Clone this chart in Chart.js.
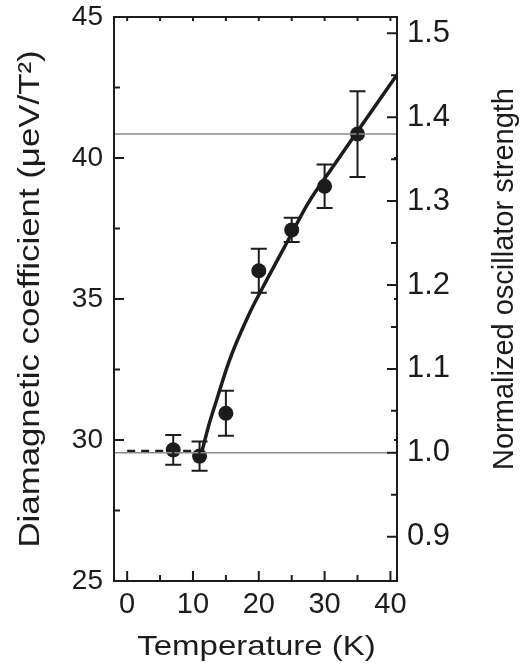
<!DOCTYPE html>
<html>
<head>
<meta charset="utf-8">
<script src="https://cdn.jsdelivr.net/npm/chart.js@4.4.0/dist/chart.umd.min.js"></script>
<style>
	html, body { margin: 0; padding: 0; background: #fff; }
	canvas { display: block; }
</style>
</head>
<body>
<canvas id="chart-diamag" width="520" height="668"></canvas>
<script>
// measured points (K, ueV/T^2) and their error half-widths
var temps = [7, 11, 15, 20, 25, 30, 35];
var coeff = [29.65, 29.43, 30.95, 36.0, 37.45, 39.0, 40.85];
var coeffErr = [0.53, 0.52, 0.8, 0.78, 0.43, 0.77, 1.52];

// guide line
var fitT = [11.2, 12.5, 13.5, 15.5, 18.5, 21.5, 24.5, 27.5, 31, 35, 38, 41];
var fitV = [29.45, 30.6, 31.35, 32.8, 34.45, 35.8, 37.1, 38.4, 39.6, 40.95, 41.95, 42.95];

// dashed low-temperature level
var flatT = [0, 11];
var flatV = [29.6, 29.6];

// thin reference levels, right axis units
var refLevels = [1.0, 1.38];

var xTicks = [0, 10, 20, 30, 40];
var leftTicks = [25, 30, 35, 40, 45];
var rightTicks = [0.9, 1.0, 1.1, 1.2, 1.3, 1.4, 1.5];

var xTitle = 'Temperature (K)';
var leftTitle = 'Diamagnetic coefficient (\u03bceV/T\u00b2)';
var rightTitle = 'Normalized oscillator strength';

var ink = '#1c1c1c';
var fontFamily = '"Liberation Sans", Arial, sans-serif';

function pairs(xs, ys) {
	return xs.map(function(x, i) { return {x: x, y: ys[i]}; });
}
function mids(list) {
	var out = [];
	for (var i = 0; i < list.length - 1; i++) out.push((list[i] + list[i + 1]) / 2);
	return out;
}
function fixTicks(list) {
	return function(scale) {
		scale.ticks = list.map(function(v) { return {value: v}; });
	};
}
// pin the axis box size and drop the label overflow padding
function fitBox(w, h) {
	return function(s) {
		if (w) s.width = w;
		if (h) s.height = h;
		s.paddingTop = 0; s.paddingBottom = 0;
		s.paddingLeft = 0; s.paddingRight = 0;
	};
}
// the original lettering is a bit wider than Liberation Sans
function wideText(ctx, text, x, y, rot, size, stretch) {
	ctx.save();
	ctx.translate(x, y);
	ctx.rotate(rot);
	ctx.scale(stretch, 1);
	ctx.font = size + 'px ' + fontFamily;
	ctx.fillText(text, 0, 0);
	ctx.restore();
}

var xMin = -2, xMax = 41;

// error bars
var errorBars = {
	id: 'errorBars',
	afterDatasetsDraw: function(chart) {
		var ctx = chart.ctx, xs = chart.scales.x, ys = chart.scales.y;
		ctx.save();
		ctx.strokeStyle = ink;
		ctx.lineWidth = 2;
		temps.forEach(function(t, i) {
			var px = xs.getPixelForValue(t);
			var top = ys.getPixelForValue(coeff[i] + coeffErr[i]);
			var bot = ys.getPixelForValue(coeff[i] - coeffErr[i]);
			ctx.beginPath();
			ctx.moveTo(px, top); ctx.lineTo(px, bot);
			ctx.moveTo(px - 8, top); ctx.lineTo(px + 8, top);
			ctx.moveTo(px - 8, bot); ctx.lineTo(px + 8, bot);
			ctx.stroke();
		});
		ctx.restore();
	}
};

// box, inward ticks and the three axis titles
var frame = {
	id: 'frame',
	afterDraw: function(chart) {
		var ctx = chart.ctx, a = chart.chartArea;
		var xs = chart.scales.x, ys = chart.scales.y, y2 = chart.scales.y2;
		ctx.save();
		ctx.strokeStyle = ink;
		ctx.lineWidth = 2;
		ctx.strokeRect(a.left, a.top, a.right - a.left, a.bottom - a.top);
		ctx.beginPath();
		xTicks.forEach(function(v) {
			var p = xs.getPixelForValue(v);
			ctx.moveTo(p, a.bottom); ctx.lineTo(p, a.bottom - 10);
			ctx.moveTo(p, a.top); ctx.lineTo(p, a.top + 4);
		});
		mids(xTicks).forEach(function(v) {
			var p = xs.getPixelForValue(v);
			ctx.moveTo(p, a.bottom); ctx.lineTo(p, a.bottom - 6);
			ctx.moveTo(p, a.top); ctx.lineTo(p, a.top + 4);
		});
		leftTicks.forEach(function(v) {
			var p = ys.getPixelForValue(v);
			ctx.moveTo(a.left, p); ctx.lineTo(a.left + 10, p);
			ctx.moveTo(a.right, p); ctx.lineTo(a.right - 3, p);
		});
		mids(leftTicks).forEach(function(v) {
			var p = ys.getPixelForValue(v);
			ctx.moveTo(a.left, p); ctx.lineTo(a.left + 6, p);
		});
		rightTicks.forEach(function(v) {
			var p = y2.getPixelForValue(v);
			ctx.moveTo(a.right, p); ctx.lineTo(a.right - 10, p);
		});
		mids(rightTicks).forEach(function(v) {
			var p = y2.getPixelForValue(v);
			ctx.moveTo(a.right, p); ctx.lineTo(a.right - 6, p);
		});
		ctx.stroke();

		ctx.fillStyle = ink;
		ctx.textAlign = 'center';
		ctx.textBaseline = 'middle';
		wideText(ctx, leftTitle, 31, (a.top + a.bottom) / 2, -Math.PI / 2, 30, 1.16);
		wideText(ctx, rightTitle, 505, 279, -Math.PI / 2, 29, 1.0);
		ctx.textBaseline = 'alphabetic';
		wideText(ctx, xTitle, (a.left + a.right) / 2 + 1, 655, 0, 28, 1.18);
		ctx.restore();
	}
};

var datasets = [{
	label: 'fit',
	data: pairs(fitT, fitV),
	borderColor: ink,
	borderWidth: 3.5,
	pointRadius: 0,
	cubicInterpolationMode: 'monotone',
	yAxisID: 'y'
}, {
	label: 'flat',
	data: pairs(flatT, flatV),
	borderColor: ink,
	borderWidth: 3,
	borderDash: [8, 6],
	pointRadius: 0,
	yAxisID: 'y'
}, {
	label: 'points',
	data: pairs(temps, coeff),
	showLine: false,
	pointRadius: 7.5,
	pointBackgroundColor: ink,
	pointBorderWidth: 0,
	yAxisID: 'y'
}];

refLevels.forEach(function(r) {
	datasets.unshift({
		label: 'ref ' + r,
		data: [{x: xMin, y: r}, {x: xMax, y: r}],
		borderColor: '#8a8a8a',
		borderWidth: 1.5,
		pointRadius: 0,
		yAxisID: 'y2'
	});
});

var chart = new Chart(document.getElementById('chart-diamag'), {
	type: 'line',
	data: {datasets: datasets},
	options: {
		responsive: false,
		animation: false,
		events: [],
		layout: {padding: {top: 17}},
		plugins: {legend: {display: false}, tooltip: {enabled: false}},
		scales: {
			x: {
				type: 'linear', min: xMin, max: xMax,
				afterBuildTicks: fixTicks(xTicks),
				afterFit: fitBox(0, 87),
				grid: {display: false, drawTicks: false},
				border: {display: false},
				ticks: {font: {family: fontFamily, size: 29}, color: ink, padding: 7}
			},
			y: {
				position: 'left', min: 25, max: 45,
				afterBuildTicks: fixTicks(leftTicks),
				afterFit: fitBox(114, 0),
				grid: {display: false, drawTicks: false},
				border: {display: false},
				ticks: {font: {family: fontFamily, size: 28}, color: ink, padding: 11}
			},
			y2: {
				position: 'right', min: 0.8472, max: 1.5194,
				afterBuildTicks: fixTicks(rightTicks),
				afterFit: fitBox(123, 0),
				grid: {display: false, drawTicks: false},
				border: {display: false},
				ticks: {
					font: {family: fontFamily, size: 31}, color: ink, padding: 10,
					callback: function(v) { return v.toFixed(1); }
				}
			}
		}
	},
	plugins: [errorBars, frame]
});
</script>
</body>
</html>
